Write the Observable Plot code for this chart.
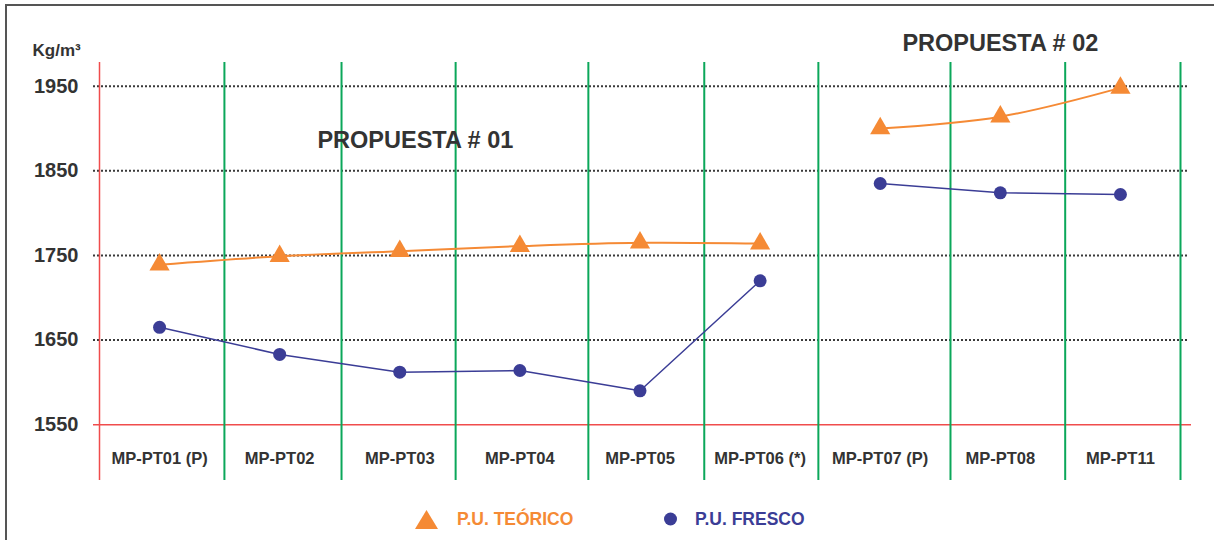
<!DOCTYPE html>
<html>
<head>
<meta charset="utf-8">
<script src="https://cdn.jsdelivr.net/npm/d3@7"></script>
<script src="https://cdn.jsdelivr.net/npm/@observablehq/plot@0.6"></script>
<style>
  html, body { margin: 0; padding: 0; background: #fff; }
  #wrap { position: relative; width: 1214px; height: 540px; overflow: hidden; font-family: "Liberation Sans", Arial, sans-serif; }
  #frame { position: absolute; left: 5px; top: 4px; right: -10px; bottom: -10px; border-top: 2px solid #555; border-left: 2px solid #555; pointer-events: none; }
  #legend { position: absolute; left: 0; top: 505px; width: 1214px; height: 30px; font-weight: bold; font-size: 17.5px; }
  .item { position: absolute; top: 3px; display: flex; align-items: center; height: 22px; }
</style>
</head>
<body>
<div id="wrap">
  <div id="chart"></div>
  <div id="legend">
    <div class="item" style="left:414px">
      <svg width="25" height="22"><path d="M12.5,2 L24,21 L1,21 Z" fill="#F58A35"/></svg>
      <span style="margin-left:18px;color:#F58A35">P.U. TEÓRICO</span>
    </div>
    <div class="item" style="left:663px">
      <svg width="15" height="22"><circle cx="7.5" cy="11" r="6.5" fill="#3B3D96"/></svg>
      <span style="margin-left:17px;color:#3B3D96">P.U. FRESCO</span>
    </div>
  </div>
  <div id="frame"></div>
</div>
<script>
const categories = ["MP-PT01 (P)", "MP-PT02", "MP-PT03", "MP-PT04", "MP-PT05", "MP-PT06 (*)", "MP-PT07 (P)", "MP-PT08", "MP-PT11"];
const teorico = [1739, 1749, 1755, 1761, 1765, 1764, 1900, 1914, 1948];
const fresco  = [1665, 1633, 1612, 1614, 1590, 1720, 1835, 1824, 1822];
const propuesta = [1, 1, 1, 1, 1, 1, 2, 2, 2];
// column separators, in category-index units
const dividers = [0, 1.04, 2.015, 2.965, 4.07, 5.035, 5.985, 7.085, 8.04, 9];
const yTicks = [1550, 1650, 1750, 1850, 1950];
const gridValues = [1650, 1750, 1850, 1950];
const baseValue = 1550;
const annoLabels = ["PROPUESTA # 01", "PROPUESTA # 02"];
const annoX = [2.63, 7.5];
const annoY = [1886, 2001];

const rows = categories.map((c, i) => ({i: i + 0.5, cat: c, teorico: teorico[i], fresco: fresco[i], grupo: propuesta[i]}));
const annos = annoLabels.map((t, k) => ({text: t, x: annoX[k], y: annoY[k]}));

const ORANGE = "#F58A35", NAVY = "#3B3D96", GREEN = "#0BA75A", RED = "#F04C4C", INK = "#333";

const chart = Plot.plot({
  width: 1214,
  height: 492,
  marginTop: 62,
  marginBottom: 12,
  marginLeft: 99,
  marginRight: 34,
  style: {fontFamily: "'Liberation Sans', Arial, sans-serif", background: "transparent", color: INK},
  x: {type: "linear", domain: [0, categories.length]},
  y: {domain: [1484, 1978]},
  marks: [
    Plot.ruleY(gridValues, {stroke: "#3a3a3a", strokeWidth: 2, strokeDasharray: "2,2", insetLeft: -6, insetRight: -8}),
    Plot.ruleY([baseValue], {stroke: RED, strokeWidth: 1.5, insetLeft: -6, insetRight: -11}),
    Plot.ruleX(dividers, {stroke: d => d === 0 ? RED : GREEN, strokeWidth: d => d === 0 ? 1.5 : 2}),
    Plot.axisY(yTicks, {tickSize: 0, tickPadding: 21, tickFormat: d => String(d), fontSize: 20, fontWeight: "bold", fill: INK, label: null}),
    Plot.axisX(rows.map(d => d.i), {tickSize: 0, tickPadding: -28, tickFormat: d => categories[Math.floor(d)], fontSize: 16.5, fontWeight: "bold", fill: INK, label: null}),
    Plot.text(["Kg/m³"], {frameAnchor: "top-left", dx: -67, dy: -19, textAnchor: "start", fontSize: 17, fontWeight: "bold", fill: INK}),
    Plot.text(annos, {x: "x", y: "y", text: "text", fontSize: 23.5, fontWeight: "bold", fill: INK}),
    Plot.line(rows, {x: "i", y: "teorico", z: "grupo", stroke: ORANGE, strokeWidth: 2, curve: "catmull-rom"}),
    Plot.line(rows, {x: "i", y: "fresco", z: "grupo", stroke: NAVY, strokeWidth: 1.5}),
    Plot.dot(rows, {x: "i", y: "teorico", symbol: "triangle", r: 7.5, fill: ORANGE}),
    Plot.dot(rows, {x: "i", y: "fresco", symbol: "circle", r: 6.5, fill: NAVY})
  ]
});
document.getElementById("chart").appendChild(chart);
</script>
</body>
</html>
